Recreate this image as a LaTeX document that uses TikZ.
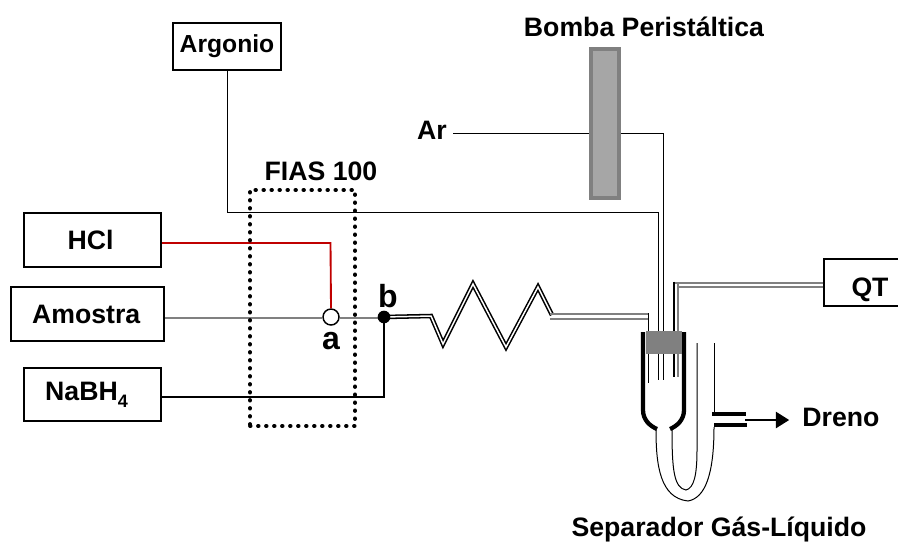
\documentclass[tikz,border=0pt]{standalone}
\usepackage{fontspec}
\setmainfont{Liberation Sans}
\usetikzlibrary{arrows.meta,calc}
\definecolor{wiregray}{HTML}{808080}
\definecolor{pumpfill}{HTML}{A6A6A6}
\definecolor{redwire}{HTML}{C00000}
\tikzset{
  x=0.75pt,y=-0.75pt,
  lbl/.style={font=\fontsize{20}{22}\selectfont\bfseries,inner sep=0pt,anchor=center},
  boxnode/.style={draw=black,line width=0.8pt,fill=white,inner sep=0pt,font=\fontsize{20}{22}\selectfont\bfseries,anchor=center},
  heavybox/.style={boxnode,line width=1.4pt},
  thin wire/.style={line width=0.7pt,black},
  gray wire/.style={line width=1.1pt,wiregray},
  pipe wire/.style={line width=1.5pt,wiregray},
  wall/.style={line width=3.2pt,black},
  tube/.style={line width=0.75pt,black},
}
\newcommand{\doublewire}[1]{\draw[line width=3.4pt,black,line join=miter] #1; \draw[line width=1.1pt,white,line join=miter] #1;}
\begin{document}
\begin{tikzpicture}
\useasboundingbox (0,0) rectangle (898,543);
% coordinates
\coordinate (argcorner) at (227,212);
\coordinate (argdown) at (658,212);
\coordinate (argend) at (658,380);
\coordinate (arcorner) at (663,133);
\coordinate (arend) at (663,380);
\coordinate (redcorner) at (330.5,243);
\coordinate (blackcorner) at (384,397);
% boxes
\node[boxnode,font=\fontsize{18.5}{20}\selectfont\bfseries,minimum width=81pt,minimum height=35.25pt] (argonio) at (227,46.5) {\raisebox{-1pt}{Argonio}};
\node[heavybox,minimum width=103pt,minimum height=40.5pt] (hcl) at (92.5,240) {HCl\rule{3pt}{0pt}};
\node[heavybox,minimum width=115pt,minimum height=40.5pt] (amostra) at (87.5,314) {Amostra\rule{2pt}{0pt}};
\node[heavybox,minimum width=103pt,minimum height=39.75pt] (nabh) at (92.5,394.5) {NaBH\raisebox{-5pt}{\fontsize{13.5}{14}\selectfont 4}\rule{9pt}{0pt}};
\node[boxnode,minimum width=69pt,minimum height=35.25pt] (qt) at (870,282.5) {\raisebox{-10.5pt}[0pt][0pt]{QT}};
% junctions
\node[circle,draw=black,line width=1.1pt,fill=white,minimum size=12pt,inner sep=0pt] (a) at (331,317) {};
\coordinate (bc) at (384,317);
% wires
\draw[gray wire] (amostra.east |- 0,318) -- (a.west |- 0,318);
\draw[gray wire] (a.east |- 0,318) -- (bc |- 0,318);
\draw[line width=1.4pt,redwire] (hcl.east |- redcorner) -- (redcorner) -- (a.north);
\draw[line width=1.9pt,black] (nabh.east |- blackcorner) -- (blackcorner) -- (bc);
\draw[thin wire] (argonio.south) -- (argcorner) -- (argdown) -- (argend);
% pump
\node[lbl] (arlabel) at (432,130.5) {Ar};
\coordinate (arstart) at (453,133);
\draw[thin wire] (arstart) -- (arcorner) -- (arend);
\node[draw=wiregray,fill=pumpfill,line width=3pt,minimum width=21pt,minimum height=112pt,inner sep=0pt] (pump) at (605,123.5) {};
% coil
\doublewire{(bc) -- (431,316) -- (443,344) -- (473,284) -- (506,347) -- (538,287) -- (552,315)}
\node[circle,fill=black,minimum size=9.5pt,inner sep=0pt] (b) at (bc) {};
% gray double to separator
\draw[pipe wire] (550,314) -- (648,314);
\draw[pipe wire] (550,318.5) -- (648,318.5);
\draw[tube] (648.5,313) -- (648.5,383);
% QT pipe
\draw[pipe wire] (qt.west |- 0,282.5) -- (674,282.5);
\draw[pipe wire] (qt.west |- 0,286.5) -- (678,286.5);
\draw[line width=1.1pt,black] (674,281.5) -- (674,377);
\draw[line width=1.1pt,wiregray] (678,282) -- (678,377);
% vessel walls
\draw[wall] (643,332) -- (643,410) .. controls (643,420) and (650,426) .. (657,429);
\draw[wall] (684,332) -- (684,410) .. controls (684,420) and (677,426) .. (670,429);
% stopper
\node[fill=wiregray,minimum width=27pt,minimum height=17.25pt,inner sep=0pt] (stopper) at (664,342.5) {};
\draw[tube] (658,354) -- (658,380);
\draw[tube] (663,354) -- (663,380);
\draw[line width=1.1pt,black] (674,354) -- (674,377);
\draw[line width=1.1pt,black] (648.5,354) -- (648.5,383);
% U tube
\draw[tube] (656,430) .. controls (656,465) and (660,498) .. (688,501) .. controls (705,498) and (714,475) .. (714,427);
\draw[tube] (714,343) -- (714,413);
\draw[tube] (672,430) .. controls (672,470) and (674,488) .. (686,490) .. controls (694,488) and (697,475) .. (697,450) -- (697,343);
% drain
\draw[line width=3pt,black] (712,414) -- (746,414);
\draw[line width=3pt,black] (714,425) -- (747,425);
\coordinate (drainstart) at (745,420);
\node[lbl] (dreno) at (841,417) {Dreno};
\draw[line width=1.9pt,-{Triangle[length=10pt,width=12pt]},shorten >=9.75pt] (drainstart) -- (dreno.west |- drainstart);
% dotted box
\node[draw=black,line width=2.8pt,dash pattern=on 0.5pt off 5.5pt,line cap=round,minimum width=78.75pt,minimum height=177pt,inner sep=0pt] (fias) at (302.5,308) {};
% labels
\node[lbl] (fiaslabel) at (321,171) {FIAS 100};
\node[lbl,font=\fontsize{24}{26}\selectfont\bfseries] (alabel) at (331,341) {a};
\node[lbl,font=\fontsize{24}{26}\selectfont\bfseries] (blabel) at (388,296) {b};
\node[lbl] (bomba) at (644,27) {Bomba Peristáltica};
\node[lbl] (sep) at (719,529) {Separador Gás-Líquido};
\end{tikzpicture}
\end{document}
